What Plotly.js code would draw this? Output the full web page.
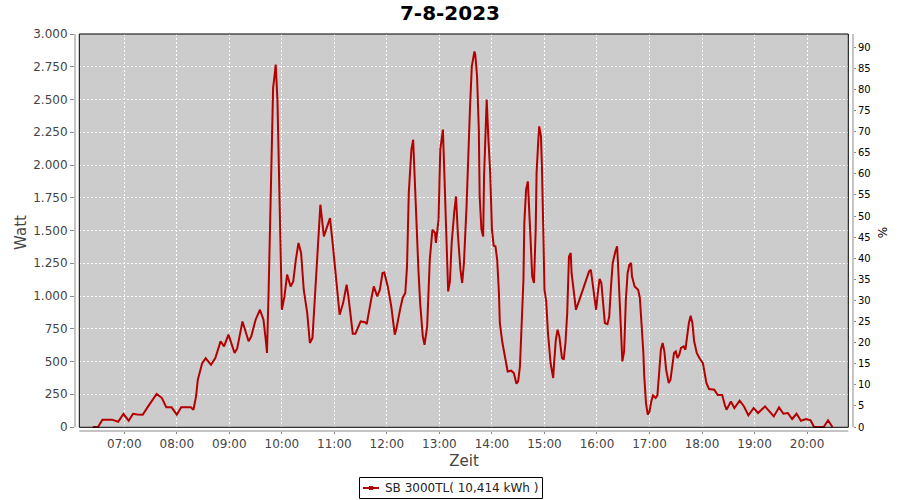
<!DOCTYPE html>
<html>
<head>
<meta charset="utf-8">
<script src="https://cdn.plot.ly/plotly-3.0.1.min.js"></script>
<style>html,body{margin:0;padding:0;background:#fff;}#chart{width:900px;height:500px;}</style>
</head>
<body>
<div id="chart"></div>
<script>
// ---- data (time of day, power in W) ----
const chartTitle = '7-8-2023';
const day = '2023-08-07';
const seriesName = 'SB 3000TL( 10,414 kWh )';
const times = [
'06:24','06:30','06:35','06:46','06:53','06:59','07:05','07:10','07:15','07:21','07:28','07:37','07:43','07:48','07:54',
'08:00','08:05','08:16','08:19','08:22','08:24','08:29','08:33','08:39','08:44','08:50','08:54','08:59',
'09:06','09:09','09:15','09:22','09:25','09:30','09:35','09:39','09:42','09:43','09:45','09:47','09:50','09:52','09:53','09:55','09:57','09:59',
'10:00','10:03','10:06','10:10','10:13','10:16','10:19','10:22','10:25','10:29','10:32','10:35','10:38','10:42','10:44','10:48','10:52','10:55','10:58',
'11:01','11:04','11:06','11:10','11:14','11:16','11:21','11:24','11:30','11:35','11:37','11:42','11:45','11:49','11:52','11:55','11:57',
'12:01','12:05','12:09','12:11','12:15','12:18','12:21','12:23','12:25','12:28','12:30','12:32','12:34','12:36','12:38','12:41','12:43','12:46','12:49','12:52','12:55','12:56','12:59',
'13:01','13:04','13:06','13:08','13:10','13:12','13:14','13:17','13:19','13:21','13:24','13:26','13:28','13:31','13:32','13:35','13:37','13:40','13:41','13:43','13:45','13:46','13:48','13:50','13:51','13:53','13:54','13:56','13:58',
'14:00','14:02','14:04','14:06','14:08','14:09','14:12','14:14','14:16','14:18','14:22','14:25','14:28','14:30','14:32','14:34','14:36','14:37','14:39','14:41','14:42','14:44','14:46','14:48','14:50','14:51','14:53','14:54','14:56','14:57','14:59',
'15:00','15:02','15:04','15:07','15:10','15:11','15:13','15:15','15:17','15:20','15:22','15:24','15:26','15:28','15:30','15:31','15:33','15:36','15:40','15:44','15:48','15:51','15:53','15:55','15:57','15:59',
'16:01','16:03','16:05','16:07','16:09','16:12','16:14','16:16','16:18','16:21','16:23','16:24','16:26','16:27','16:29','16:31','16:33','16:35','16:37','16:39','16:40','16:43','16:47','16:49','16:51','16:53','16:54','16:56','16:58',
'17:00','17:02','17:04','17:07','17:09','17:11','17:13','17:15','17:17','17:19','17:22','17:24','17:26','17:28','17:30','17:32','17:34','17:36','17:39','17:41','17:43','17:45','17:47','17:49','17:51','17:54','17:57',
'18:01','18:03','18:05','18:08','18:14','18:18','18:23','18:26','18:28','18:33','18:37','18:43','18:48','18:53','18:59',
'19:04','19:12','19:17','19:22','19:28','19:33','19:38','19:43','19:48','19:53','19:59',
'20:04','20:08','20:19','20:24','20:29'
];
const watts = [
0,0,56,56,40,99,48,101,95,94,165,252,221,150,150,
94,150,150,132,234,361,488,526,475,527,654,615,705,
565,600,806,654,690,819,895,819,641,565,1073,1773,2588,2702,2766,2486,1760,1150,
895,997,1163,1073,1111,1277,1405,1328,1048,870,641,680,1048,1557,1697,1455,1532,1595,1405,
1200,940,857,946,1086,997,712,712,806,800,785,972,1073,997,1048,1176,1180,
1073,921,705,756,895,985,1023,1226,1786,2117,2193,1863,1430,1201,946,692,628,768,1277,1506,1481,1405,1583,
2117,2270,1888,1455,1035,1111,1405,1646,1760,1481,1201,1099,1252,1684,1900,2447,2753,2867,2842,2676,2270,1760,1506,1455,1913,2397,2499,2193,1939,
1506,1384,1380,1277,1023,794,641,565,488,424,430,412,330,350,463,743,1124,1557,1812,1875,1760,1455,1150,1099,1506,1939,2193,2295,2218,2015,1405,
1048,959,718,488,374,488,666,743,692,527,515,641,870,1302,1328,1176,1048,895,972,1048,1124,1188,1200,1099,997,895,
1023,1130,1099,946,794,785,844,1073,1252,1340,1379,1252,921,718,501,577,972,1176,1239,1252,1150,1073,1048,985,794,565,386,183,94,
119,195,241,221,241,412,590,641,577,437,336,361,463,565,577,527,552,603,615,590,692,794,850,794,654,565,527,
488,412,336,290,285,244,244,170,132,195,145,201,157,89,145,
107,157,119,81,150,101,107,61,101,48,61,
51,0,0,51,0
];
const xRange = [day + ' 06:03:41', day + ' 20:52:29'];
const wattRange = [-30.5, 3000];
const pctRange = [-0.948, 93.15];

// ---- geometry helpers (pixel -> paper) ----
const ML = 75, MR = 47, MT = 34, MB = 69, W = 900, H = 500;
const dw = W - ML - MR, dh = H - MT - MB;
const fx = px => (px - ML) / dw;
const fy = py => (H - MB - py) / dh;
const plotL = 79.3, plotR = 848.3, plotT = 34, plotB = 427.3;
const lineColor = '#b40000';

const trace = {
  type: 'scatter', mode: 'lines', name: seriesName,
  x: times.map(t => day + ' ' + t), y: watts,
  line: {color: lineColor, width: 2},
  showlegend: false, hoverinfo: 'x+y'
};
const dummy = {type: 'scatter', mode: 'lines', x: [], y: [], yaxis: 'y2', showlegend: false, hoverinfo: 'skip'};

const axisGray = '#8a8a8a';
// legend box geometry (pixels)
const lgL = 359.5, lgR = 542.5, lgT = 477.5, lgB = 498.5, lgMid = 488;

const layout = {
  width: W, height: H,
  margin: {l: ML, r: MR, t: MT, b: MB, pad: 0},
  paper_bgcolor: '#ffffff',
  plot_bgcolor: 'rgba(0,0,0,0)',
  separators: ',.',
  font: {family: 'DejaVu Sans, sans-serif', color: '#444'},
  title: {text: chartTitle, x: 0.5, xref: 'container', xanchor: 'center',
          y: 1 - 13/500, yref: 'container', yanchor: 'middle',
          font: {family: 'DejaVu Sans, sans-serif', size: 20, color: '#000', weight: 'bold'}},
  showlegend: false,
  xaxis: {
    type: 'date', range: xRange, fixedrange: true,
    tickformat: '%H:%M', dtick: 3600000, tick0: day + ' 07:00',
    ticks: 'outside', ticklen: 2, tickcolor: axisGray, tickwidth: 1,
    showgrid: true, gridcolor: '#ffffff', gridwidth: 1, griddash: '2px,2px',
    showline: false, zeroline: false,
    tickfont: {family: 'DejaVu Sans, sans-serif', size: 12, color: '#444'},
    title: {text: 'Zeit', font: {family: 'DejaVu Sans, sans-serif', size: 15, color: '#444'}, standoff: 5}
  },
  yaxis: {
    range: wattRange, fixedrange: true, tick0: 0, dtick: 250, separatethousands: true,
    ticks: 'outside', ticklen: 4, tickcolor: axisGray, tickwidth: 1,
    showgrid: true, gridcolor: '#ffffff', gridwidth: 1, griddash: '2px,2px',
    showline: false, zeroline: false,
    tickfont: {family: 'DejaVu Sans, sans-serif', size: 12, color: '#444'},
    title: {text: 'Watt', font: {family: 'DejaVu Sans, sans-serif', size: 15, color: '#444'}, standoff: 2}
  },
  yaxis2: {
    overlaying: 'y', side: 'right', anchor: 'x', range: pctRange, fixedrange: true,
    tick0: 0, dtick: 5, ticks: 'outside', ticklen: 2, tickcolor: axisGray,
    showgrid: false, zeroline: false, showline: false,
    tickfont: {family: 'DejaVu Sans, sans-serif', size: 10, color: '#000'},
    title: {text: '%', font: {family: 'DejaVu Sans, sans-serif', size: 12, color: '#000'}, standoff: 8}
  },
  shapes: [
    {type: 'rect', xref: 'paper', yref: 'paper', layer: 'below',
     x0: fx(plotL), x1: fx(plotR), y0: fy(plotB), y1: fy(plotT),
     fillcolor: '#cccccc', line: {width: 0}},
    {type: 'rect', xref: 'paper', yref: 'paper', layer: 'above',
     x0: fx(plotL), x1: fx(plotR), y0: fy(plotB), y1: fy(plotT),
     fillcolor: 'rgba(0,0,0,0)', line: {color: '#000', width: 1}},
    {type: 'line', xref: 'paper', yref: 'paper', x0: 0, x1: 0, y0: fy(plotB), y1: fy(plotT), line: {color: axisGray, width: 1}},
    {type: 'line', xref: 'paper', yref: 'paper', x0: 1, x1: 1, y0: fy(plotB), y1: fy(plotT), line: {color: axisGray, width: 1}},
    {type: 'line', xref: 'paper', yref: 'paper', x0: fx(plotL), x1: fx(plotR), y0: 0, y1: 0, line: {color: axisGray, width: 1}},
    // legend box
    {type: 'rect', xref: 'paper', yref: 'paper', x0: fx(lgL), x1: fx(lgR), y0: fy(lgB), y1: fy(lgT),
     fillcolor: '#ffffff', line: {color: '#000', width: 1}},
    {type: 'line', xref: 'paper', yref: 'paper', x0: fx(363), x1: fx(379), y0: fy(lgMid), y1: fy(lgMid),
     line: {color: lineColor, width: 2}},
    {type: 'rect', xref: 'paper', yref: 'paper', x0: fx(369), x1: fx(373), y0: fy(lgMid + 2), y1: fy(lgMid - 2),
     fillcolor: lineColor, line: {width: 0}}
  ],
  annotations: [
    {xref: 'paper', yref: 'paper', x: fx(383), y: fy(lgMid), xanchor: 'left', yanchor: 'middle',
     text: seriesName, showarrow: false,
     font: {family: 'DejaVu Sans, sans-serif', size: 12, color: '#222'}}
  ]
};

Plotly.newPlot('chart', [trace, dummy], layout, {staticPlot: true, displayModeBar: false});
</script>
</body>
</html>
